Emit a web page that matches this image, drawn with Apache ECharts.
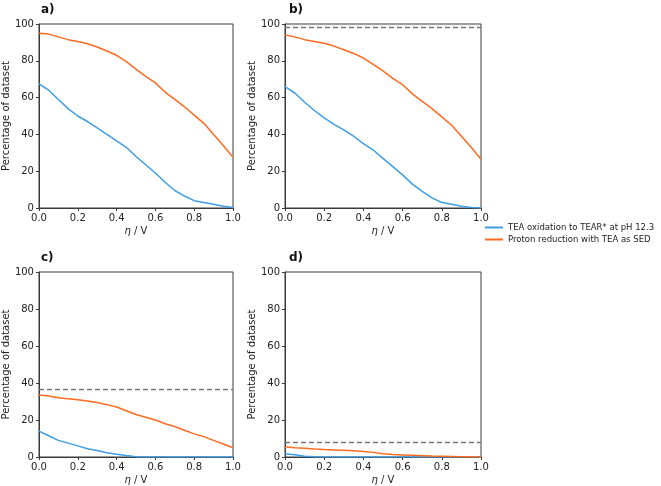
<!DOCTYPE html>
<html><head><meta charset="utf-8">
<script src="https://cdn.jsdelivr.net/npm/echarts@6/dist/echarts.min.js"></script>
<style>html,body{margin:0;padding:0;background:#fff}#c{width:661px;height:486px}</style>
</head><body><div id="c"></div>
<script>
const eta = [0,0.05,0.1,0.15,0.2,0.25,0.3,0.35,0.4,0.45,0.5,0.55,0.6,0.65,0.7,0.75,0.8,0.85,0.9,0.95,1.0];
const panelLabels = ['a)','b)','c)','d)'];
const seriesNames = ['TEA oxidation to TEAR* at pH 12.3','Proton reduction with TEA as SED'];
const teaA = [67.5,64,59,54,50,47,43.5,40,36.5,33,28,23.5,19,14,9.5,6.5,4,3,2,1,0.3];
const protonA = [95,94.5,93,91.5,90.5,89.3,87.5,85.3,83,79.5,75.5,71.5,68,63,59,55,50.5,46,40,34,27.5];
const teaB = [66,62.5,57.5,53,49,45.5,42.5,39,35,31.5,27,22.5,18,13,9,5.5,3,2,1,0.3,0];
const protonB = [94,93,91.5,90.5,89.5,88,86,84,81.5,78,74.5,70.5,67,62,58,54,49.5,45,39,33,26.5];
const teaC = [14,11.5,9,7.5,6,4.5,3.5,2.3,1.5,0.8,0.2,0,0,0,0,0,0,0,0,0,0];
const protonC = [33.5,33,32,31.5,31,30.3,29.5,28.3,27,25,23,21.5,20,18,16.5,14.5,12.5,11,9,7,5];
const teaD = [1.8,1.2,0.4,0.1,0,0,0,0,0,0,0,0,0,0,0,0,0,0,0,0,0];
const protonD = [5.5,5,4.7,4.3,4,3.8,3.6,3.4,3,2.5,1.8,1.3,1.1,0.9,0.7,0.5,0.4,0.3,0.2,0.1,0];
const thresholds = [null,98.5,36.5,8];
const xTicks = [0,0.2,0.4,0.6,0.8,1.0];
const yTicks = [0,20,40,60,80,100];

const teaSets = [teaA,teaB,teaC,teaD];
const protonSets = [protonA,protonB,protonC,protonD];
const BLUE = '#3c9ee6', ORANGE = '#fe6b1f';
const FONT = 'DejaVu Sans';
const grids = [
  {left:37, top:24, width:196, height:184},
  {left:285, top:24, width:196, height:184},
  {left:37, top:272, width:196, height:185},
  {left:285, top:272, width:196, height:185}
];
const xAxes=[], yAxes=[], series=[], graphics=[];
grids.forEach((g,i)=>{
  g.show = true; g.borderColor = '#3a3a3a'; g.borderWidth = 1;
  xAxes.push({type:'value', gridIndex:i, min:xTicks[0], max:xTicks[xTicks.length-1], interval:0.2,
    name:'{i|η} / V', nameLocation:'middle', nameGap:18,
    nameTextStyle:{fontFamily:FONT, fontSize:10, color:'#222', rich:{i:{fontStyle:'italic', fontFamily:FONT, fontSize:10, color:'#222'}}},
    axisLine:{show:true, onZero:false, lineStyle:{color:'#3a3a3a', width:1}},
    axisTick:{show:true, length:3, lineStyle:{color:'#3a3a3a'}},
    axisLabel:{fontFamily:FONT, fontSize:10, color:'#222', margin:5, formatter:v=>v.toFixed(1)},
    splitLine:{show:false}});
  yAxes.push({type:'value', gridIndex:i, min:yTicks[0], max:yTicks[yTicks.length-1], interval:20,
    name:'Percentage of dataset', nameLocation:'middle', nameGap:25,
    nameTextStyle:{fontFamily:FONT, fontSize:10, color:'#222'},
    axisLine:{show:true, lineStyle:{color:'#3a3a3a', width:1}},
    axisTick:{show:true, length:3, lineStyle:{color:'#3a3a3a'}},
    axisLabel:{fontFamily:FONT, fontSize:10, color:'#222', margin:5},
    splitLine:{show:false}});
  series.push({name:seriesNames[0], type:'line', xAxisIndex:i, yAxisIndex:i, showSymbol:false, symbol:'none',
    data:eta.map((x,k)=>[x,teaSets[i][k]]), lineStyle:{color:BLUE, width:1.5}, itemStyle:{color:BLUE}, z:3});
  const s = {name:seriesNames[1], type:'line', xAxisIndex:i, yAxisIndex:i, showSymbol:false, symbol:'none',
    data:eta.map((x,k)=>[x,protonSets[i][k]]), lineStyle:{color:ORANGE, width:1.5}, itemStyle:{color:ORANGE}, z:3};
  if (thresholds[i] !== null) {
    s.markLine = {silent:true, symbol:'none', animation:false, label:{show:false},
      lineStyle:{color:'#777', type:[5,3], width:1.4}, data:[{yAxis:thresholds[i]}]};
  }
  series.push(s);
  graphics.push({type:'text', left:g.left+4, top:g.top-20, style:{text:panelLabels[i], font:'bold 12px "DejaVu Sans"', fill:'#111'}});
});
const chart = echarts.init(document.getElementById('c'), null, {renderer:'canvas'});
chart.setOption({
  animation:false,
  backgroundColor:'#fff',
  grid:grids, xAxis:xAxes, yAxis:yAxes, series:series, graphic:graphics,
  legend:{orient:'vertical', left:485, top:223, itemGap:3, itemWidth:18, itemHeight:2, icon:'rect',
    data:seriesNames, textStyle:{fontFamily:FONT, fontSize:8.5, color:'#222'}, padding:0}
});
</script></body></html>
